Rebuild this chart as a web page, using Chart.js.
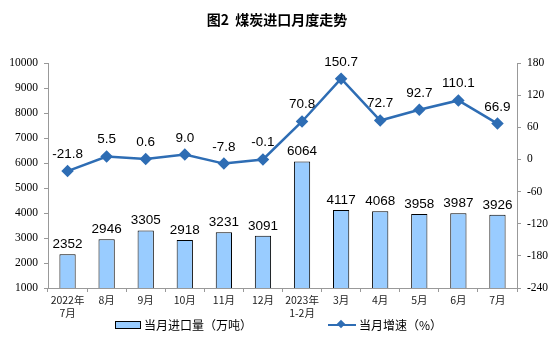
<!DOCTYPE html>
<html><head><meta charset="utf-8">
<script src="https://cdn.jsdelivr.net/npm/chart.js@4/dist/chart.umd.min.js"></script>
<style>
html,body{margin:0;padding:0;background:#fff;}
#wrap{position:relative;width:554px;height:357px;}
#title{position:absolute;left:0;top:9px;width:554px;text-align:center;font:bold 14px "Noto Sans CJK SC",sans-serif;color:#000;}
#legend{position:absolute;top:316px;left:0;width:554px;font:12px "Noto Sans CJK SC",sans-serif;color:#000;}
.lg{position:absolute;display:flex;align-items:center;white-space:nowrap;}
.sw{display:inline-block;width:24px;height:6px;background:#99CCFF;border:1px solid #000;margin-right:3px;}
.ln{position:relative;display:inline-block;width:28px;height:2px;background:#2E6DB4;margin-right:3px;}
.ln:after{content:"";position:absolute;left:10px;top:-3px;width:6px;height:6px;background:#2E6DB4;transform:rotate(45deg);}
</style></head>
<body><div id="wrap">
<div id="title">图2&nbsp;&nbsp;煤炭进口月度走势</div>
<canvas id="c" width="554" height="357"></canvas>
<div id="legend">
<div class="lg" style="left:115px;top:0"><span class="sw"></span>当月进口量（万吨）</div>
<div class="lg" style="left:328px;top:0"><span class="ln"></span>当月增速（%）</div>
</div>
</div>
<script>
const categories = [["2022年","7月"],"8月","9月","10月","11月","12月",["2023年","1-2月"],"3月","4月","5月","6月","7月"];
const importVolume = [2352,2946,3305,2918,3231,3091,6064,4117,4068,3958,3987,3926];
const growthRate = [-21.8,5.5,0.6,9.0,-7.8,-0.1,70.8,150.7,72.7,92.7,110.1,66.9];
const growthLabels = ["-21.8","5.5","0.6","9.0","-7.8","-0.1","70.8","150.7","72.7","92.7","110.1","66.9"];

const labelPlugin = {
  id:'vals',
  afterDatasetsDraw(chart){
    const ctx = chart.ctx;
    ctx.save();
    ctx.font = '13.5px "Liberation Sans", Arial, sans-serif';
    ctx.fillStyle = '#000';
    ctx.textAlign = 'center';
    ctx.textBaseline = 'bottom';
    chart.getDatasetMeta(0).data.forEach((el,i)=>{
      ctx.fillText(String(importVolume[i]), el.x, el.y - 3);
    });
    chart.getDatasetMeta(1).data.forEach((el,i)=>{
      ctx.fillText(growthLabels[i], el.x, el.y - 10);
    });
    ctx.restore();
  }
};

const serif = {family:'Liberation Serif, Times New Roman, serif', size:11.5};

new Chart(document.getElementById('c'), {
  data:{
    labels: categories,
    datasets:[
      {type:'bar', label:'当月进口量（万吨）', data:importVolume, yAxisID:'y',
       backgroundColor:'#99CCFF', borderColor:'#000', borderWidth:1,
       categoryPercentage:0.8, barPercentage:0.52, order:2},
      {type:'line', label:'当月增速（%）', data:growthRate, yAxisID:'y1',
       borderColor:'#2E6DB4', backgroundColor:'#2E6DB4', borderWidth:2.5,
       pointStyle:'rectRot', pointRadius:4.5, pointHoverRadius:4.5, tension:0, order:1}
    ]
  },
  options:{
    responsive:false, animation:false, devicePixelRatio:1,
    layout:{padding:{top:63,bottom:30,left:0,right:0}},
    plugins:{legend:{display:false}, tooltip:{enabled:false}, title:{display:false}},
    scales:{
      x:{
        offset:true,
        grid:{display:true, drawOnChartArea:false, offset:true, tickLength:4, color:'#999'},
        border:{color:'#999'},
        ticks:{font:{family:'"Noto Sans CJK SC", sans-serif', size:10.5}, color:'#222', maxRotation:0, autoSkip:false, padding:2},
        afterFit(s){ s.height = 39; }
      },
      y:{
        position:'left', min:1000, max:10000,
        ticks:{stepSize:1000, font:serif, color:'#000', padding:6, callback:v=>String(v)},
        grid:{display:true, drawOnChartArea:false, tickLength:4, color:'#999'},
        border:{color:'#999'},
        afterFit(s){ s.width = 48; }
      },
      y1:{
        position:'right', min:-240, max:180,
        ticks:{stepSize:60, font:serif, color:'#000', padding:6, callback:v=>String(v)},
        grid:{display:true, drawOnChartArea:false, tickLength:4, color:'#999'},
        border:{color:'#999'},
        afterFit(s){ s.width = 37; }
      }
    }
  },
  plugins:[labelPlugin]
});
</script>
</body></html>
